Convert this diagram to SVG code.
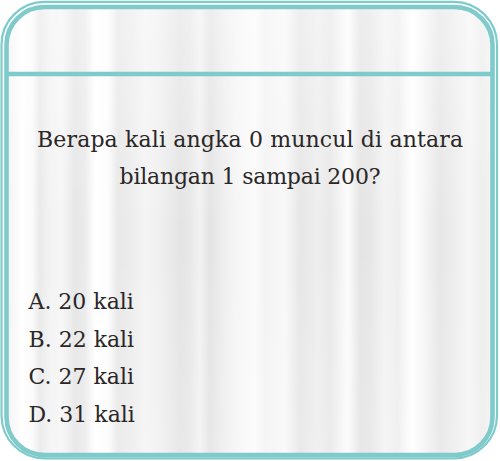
<svg xmlns="http://www.w3.org/2000/svg" width="500" height="461" viewBox="0 0 500 461">
  <defs>
    <linearGradient id="curtain" gradientUnits="userSpaceOnUse" x1="9" y1="0" x2="491" y2="0">
      <stop offset="0" stop-color="#f4f4f4"/>
      <stop offset="0.027" stop-color="#ffffff"/>
      <stop offset="0.048" stop-color="#fbfbfb"/>
      <stop offset="0.064" stop-color="#e9e9e9"/>
      <stop offset="0.085" stop-color="#f3f3f3"/>
      <stop offset="0.110" stop-color="#f6f6f6"/>
      <stop offset="0.137" stop-color="#e6e6e6"/>
      <stop offset="0.158" stop-color="#ebebeb"/>
      <stop offset="0.178" stop-color="#ffffff"/>
      <stop offset="0.205" stop-color="#fdfdfd"/>
      <stop offset="0.226" stop-color="#e8e8e8"/>
      <stop offset="0.251" stop-color="#ececec"/>
      <stop offset="0.282" stop-color="#f4f4f4"/>
      <stop offset="0.313" stop-color="#f0f0f0"/>
      <stop offset="0.355" stop-color="#e4e4e4"/>
      <stop offset="0.376" stop-color="#e8e8e8"/>
      <stop offset="0.396" stop-color="#f2f2f2"/>
      <stop offset="0.417" stop-color="#e3e3e3"/>
      <stop offset="0.442" stop-color="#ededed"/>
      <stop offset="0.469" stop-color="#f5f5f5"/>
      <stop offset="0.510" stop-color="#fbfbfb"/>
      <stop offset="0.531" stop-color="#f3f3f3"/>
      <stop offset="0.573" stop-color="#f8f8f8"/>
      <stop offset="0.604" stop-color="#e6e6e6"/>
      <stop offset="0.641" stop-color="#eeeeee"/>
      <stop offset="0.666" stop-color="#e8e8e8"/>
      <stop offset="0.703" stop-color="#fcfcfc"/>
      <stop offset="0.728" stop-color="#e4e4e4"/>
      <stop offset="0.749" stop-color="#e6e6e6"/>
      <stop offset="0.780" stop-color="#f3f3f3"/>
      <stop offset="0.807" stop-color="#eeeeee"/>
      <stop offset="0.836" stop-color="#ffffff"/>
      <stop offset="0.857" stop-color="#f7f7f7"/>
      <stop offset="0.894" stop-color="#e6e6e6"/>
      <stop offset="0.919" stop-color="#ececec"/>
      <stop offset="0.956" stop-color="#f6f6f6"/>
      <stop offset="0.981" stop-color="#ededed"/>
      <stop offset="1" stop-color="#f2f2f2"/>
    </linearGradient>
    <linearGradient id="sheen" x1="0" y1="0" x2="0" y2="1">
      <stop offset="0" stop-color="#ffffff" stop-opacity="0.35"/>
      <stop offset="0.5" stop-color="#ffffff" stop-opacity="0"/>
      <stop offset="1" stop-color="#ffffff" stop-opacity="0.15"/>
    </linearGradient>
  </defs>
  <style>
    .teal { fill: none; stroke: #7fcbcb; }
    .q { font-family: "DejaVu Serif", "Liberation Serif", serif; font-size: 22px; fill: #2b2727; }
  </style>
  <rect x="0" y="0" width="500" height="461" fill="#ffffff"/>
  <g id="background">
    <rect x="6.5" y="7" width="486" height="448" rx="38" ry="38" fill="url(#curtain)"/>
    <rect x="6.5" y="7" width="486" height="448" rx="38" ry="38" fill="url(#sheen)"/>
  </g>
  <g id="frame">
    <rect class="teal" x="1.5" y="1.8" width="495.5" height="456.6" rx="43" ry="43" stroke-width="2.2"/>
    <rect class="teal" x="6.5" y="7" width="486" height="448" rx="38" ry="38" stroke-width="4.6"/>
    <line class="teal" x1="6.5" y1="74" x2="492.5" y2="74" stroke-width="4.6"/>
  </g>
  <g id="question">
    <text class="q" x="250" y="146.5" text-anchor="middle" textLength="426" lengthAdjust="spacing">Berapa kali angka 0 muncul di antara</text>
    <text class="q" x="250" y="183.5" text-anchor="middle" textLength="261" lengthAdjust="spacing">bilangan 1 sampai 200?</text>
  </g>
  <g id="answers">
    <text class="q" x="28.5" y="309">A. 20 kali</text>
    <text class="q" x="28.5" y="346.5">B. 22 kali</text>
    <text class="q" x="28.5" y="384">C. 27 kali</text>
    <text class="q" x="28.5" y="421.5">D. 31 kali</text>
  </g>
</svg>
